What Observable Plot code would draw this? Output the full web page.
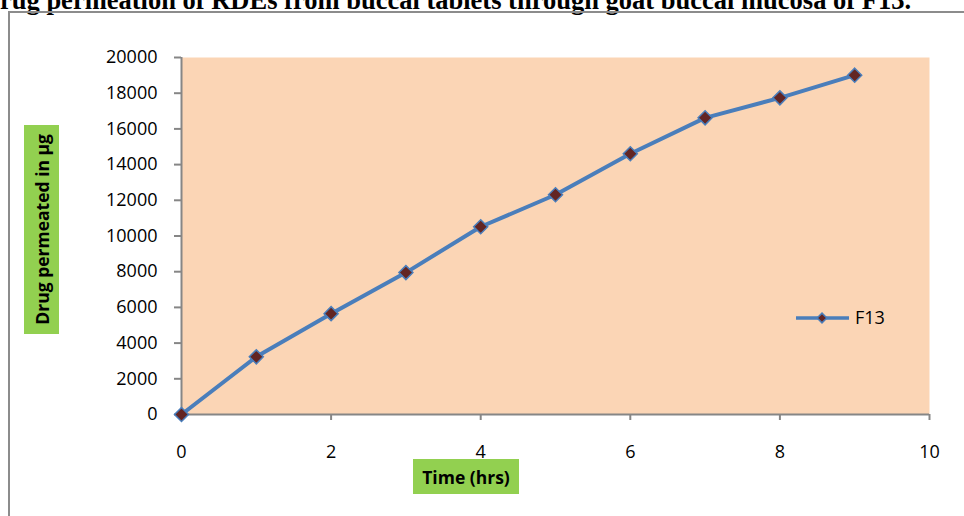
<!DOCTYPE html>
<html>
<head>
<meta charset="utf-8">
<script src="https://cdn.jsdelivr.net/npm/d3@7"></script>
<script src="https://cdn.jsdelivr.net/npm/@observablehq/plot@0.6"></script>
<style>
  html, body { margin: 0; padding: 0; background: #fff; }
  #wrap { position: relative; width: 964px; height: 516px; overflow: hidden; background: #fff; }
  #title { position: absolute; left: 0px; top: -15px; white-space: nowrap;
    font-family: "Liberation Serif", "Times New Roman", serif; font-weight: bold; font-size: 26.5px; line-height: 30px; color: #000; }
  #frame { position: absolute; left: 8px; top: 11px; width: 2000px; height: 2000px;
    border-left: 2px solid #8c8c8c; border-top: 2px solid #8c8c8c; }
  #chart { position: absolute; left: 0; top: 0; }
  .lab { position: absolute; background: #92D050; display: flex; align-items: center; justify-content: center;
    font-family: "Open Sans", sans-serif; font-weight: bold; color: #000; }
  #ylab { left: 24px; top: 125px; width: 35px; height: 209px; font-size: 17.5px; }
  #ylab span { writing-mode: vertical-rl; transform: rotate(180deg); white-space: nowrap; }
  #xlab { left: 413px; top: 459px; width: 106px; height: 35px; font-size: 17.5px; }
  #legend { position: absolute; left: 790px; top: 303px; }
</style>
</head>
<body>
<div id="wrap">
  <div id="title">rug permeation of RDEs from buccal tablets through goat buccal mucosa of F13.</div>
  <div id="frame"></div>
  <div id="chart"></div>
  <div class="lab" id="ylab"><span>Drug permeated in µg</span></div>
  <div class="lab" id="xlab">Time (hrs)</div>
  <svg id="legend" width="120" height="30"></svg>
</div>
<script>
const seriesName = "F13";
const timeHrs = [0, 1, 2, 3, 4, 5, 6, 7, 8, 9];
const drugPermeated = [0, 3230, 5650, 7950, 10520, 12310, 14610, 16620, 17740, 19010];
const xTicks = [0, 2, 4, 6, 8, 10];
const yTicks = [0, 2000, 4000, 6000, 8000, 10000, 12000, 14000, 16000, 18000, 20000];

const data = timeHrs.map((t, i) => ({t, v: drugPermeated[i]}));
const lineColor = "#4A7EBB";
const markerFill = "#632523";
const axisGray = "#868686";

const chart = Plot.plot({
  width: 964,
  height: 516,
  marginLeft: 181,
  marginRight: 35,
  marginTop: 57,
  marginBottom: 102,
  style: {background: "transparent", fontFamily: "Open Sans, sans-serif", fontSize: "18px", color: "#000", overflow: "visible"},
  x: {domain: [0, 10]},
  y: {domain: [0, 20000]},
  marks: [
    Plot.frame({fill: "#FBD5B5", stroke: null}),
    Plot.axisX({ticks: xTicks, tickSize: 6, tickPadding: 25, stroke: axisGray, strokeWidth: 2, fill: "#000", label: null, tickFormat: d => String(d)}),
    Plot.axisY({ticks: yTicks, tickSize: 7, tickPadding: 17, stroke: axisGray, strokeWidth: 2, fill: "#000", label: null, tickFormat: d => String(d)}),
    Plot.ruleY([0], {stroke: axisGray, strokeWidth: 2}),
    Plot.ruleX([0], {stroke: axisGray, strokeWidth: 2}),
    Plot.line(data, {x: "t", y: "v", stroke: lineColor, strokeWidth: 4}),
    Plot.dot(data, {x: "t", y: "v", symbol: "diamond2", r: 6.3, fill: markerFill, stroke: lineColor, strokeWidth: 1.5})
  ]
});
document.getElementById("chart").appendChild(chart);

// legend
const lg = d3.select("#legend");
lg.append("line").attr("x1", 6).attr("x2", 59).attr("y1", 15).attr("y2", 15)
  .attr("stroke", lineColor).attr("stroke-width", 3.5);
lg.append("path").attr("d", d3.symbol(d3.symbolDiamond2, 60)())
  .attr("transform", "translate(32,15)").attr("fill", markerFill).attr("stroke", lineColor).attr("stroke-width", 1.5);
lg.append("text").attr("x", 65).attr("y", 21).text(seriesName)
  .attr("font-family", "Open Sans, sans-serif").attr("font-size", 18).attr("fill", "#000");
</script>
</body>
</html>
